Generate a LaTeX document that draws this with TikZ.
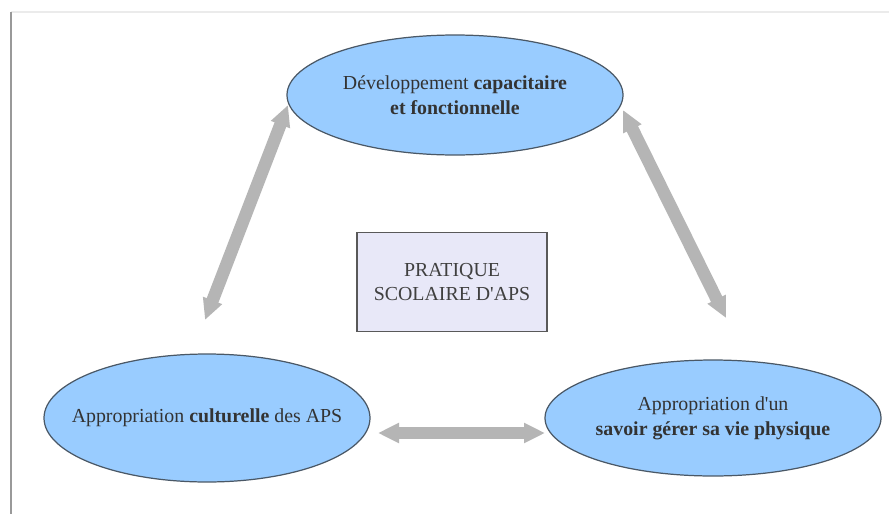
\documentclass[tikz,border=0pt]{standalone}
\usepackage{fontspec}
\setmainfont{Liberation Serif}
\usetikzlibrary{arrows.meta,shapes.geometric}
\definecolor{ellfill}{HTML}{99CCFF}
\definecolor{ellline}{HTML}{4A5866}
\definecolor{boxfill}{HTML}{E8E8F8}
\definecolor{arrgray}{HTML}{B5B5B5}

\begin{document}
\begin{tikzpicture}[x=0.02cm,y=-0.02cm,
    bulle/.style={ellipse,draw=ellline,fill=ellfill,line width=0.7pt,inner sep=0pt},
    texte/.style={align=center,font=\fontsize{11.3}{14}\selectfont,text=black!80},
    cadre/.style={rectangle,draw=black!65,fill=boxfill,line width=0.8pt,inner sep=0pt,
        align=center,font=\fontsize{11.3}{14}\selectfont,text=black!75},
    fleche/.style={arrgray,line width=0.25cm,
        {Triangle[length=0.42cm,width=0.38cm]}-{Triangle[length=0.42cm,width=0.38cm]}}]
        \useasboundingbox (0,0) rectangle (889,514);
        \fill[white] (0,0) rectangle (889,514);
        \draw[black!8,line width=1.5pt] (11,12) -- (889,12);
        \draw[black!40,line width=1.6pt] (11,12) -- (11,514);

        \node[bulle,minimum width=336*0.02cm,minimum height=2.4cm,
            label={[texte]center:Développement \textbf{capacitaire}\\\textbf{et fonctionnelle}}]
            (dev) at (455,95) {};
        \node[bulle,minimum width=326*0.02cm,minimum height=2.56cm,
            label={[texte]center:Appropriation \textbf{culturelle} des APS}]
            (cult) at (207,418) {};
        \node[bulle,minimum width=336*0.02cm,minimum height=2.32cm,
            label={[texte]center:Appropriation d\textquotesingle un\\\textbf{savoir gérer sa vie physique}}]
            (savoir) at (713,418) {};
        \node[cadre,minimum width=190*0.02cm,minimum height=99*0.02cm] (pratique) at (452,282)
            {PRATIQUE\\SCOLAIRE D\textquotesingle APS};

        \coordinate (g1) at (288,105);
        \coordinate (g2) at (205,320);
        \coordinate (d1) at (623,110);
        \coordinate (d2) at (726,318);
        \coordinate (b1) at (378,433);
        \coordinate (b2) at (545,433);

        \draw[fleche] (g1) -- (g2);
        \draw[fleche] (d1) -- (d2);
        \draw[fleche] (b1) -- (b2);
    \end{tikzpicture}
\end{document}
